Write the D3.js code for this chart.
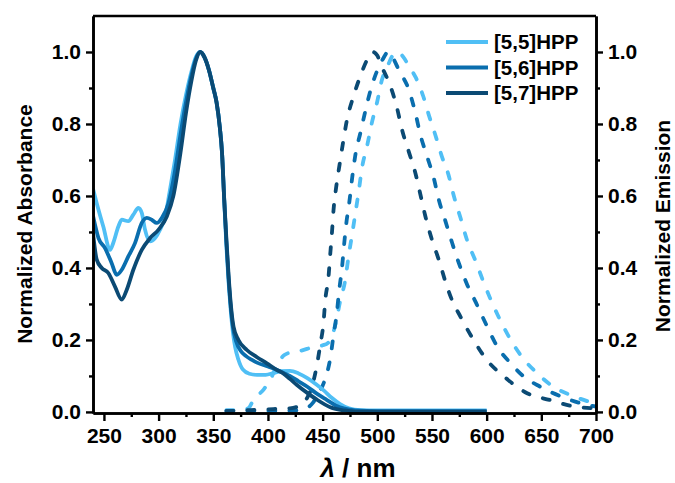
<!DOCTYPE html>
<html>
<head>
<meta charset="utf-8">
<script src="https://cdn.jsdelivr.net/npm/d3@7"></script>
<style>
  body { margin: 0; background: #fff; }
  svg text { font-family: "Liberation Sans", Arial, sans-serif; font-weight: bold; fill: #000; }
</style>
</head>
<body>
<svg id="chart" width="675" height="483"></svg>
<script>
// series names + colours
const seriesNames = ["[5,5]HPP", "[5,6]HPP", "[5,7]HPP"];
const seriesColors = ["#50bff5", "#0a6eae", "#0b4a74"];

// absorption (solid), [wavelength nm, normalized]
const abs55 = [[240,0.62],[243.4,0.58],[249.4,0.515],[255.6,0.45],[258.6,0.47],[263.2,0.515],[266.3,0.534],[272.3,0.53],[276.9,0.548],[281.5,0.567],[284.6,0.553],[287.6,0.506],[292.2,0.474],[296.8,0.483],[301.3,0.506],[306,0.543],[310,0.61],[315,0.70],[320,0.80],[325,0.88],[330,0.945],[334,0.985],[338,1.0],[342,0.985],[346,0.95],[350,0.9],[353,0.86],[356,0.79],[358,0.72],[360,0.59],[362,0.46],[364,0.36],[366,0.28],[368,0.22],[370,0.18],[373,0.145],[377,0.118],[383,0.106],[390,0.103],[398,0.103],[405,0.108],[412,0.113],[420,0.114],[428,0.107],[436,0.094],[444,0.077],[451,0.06],[458,0.04],[466,0.022],[474,0.01],[485,0.005],[500,0.004],[600,0.004]];
const abs56 = [[240,0.545],[245,0.483],[251,0.455],[257,0.414],[261.7,0.381],[266.3,0.395],[272.3,0.432],[278.4,0.469],[284.6,0.525],[289.2,0.539],[293.7,0.534],[298.3,0.525],[302.9,0.539],[309,0.58],[315,0.67],[320,0.77],[325,0.86],[330,0.935],[334,0.98],[338,1.0],[342,0.985],[346,0.95],[350,0.9],[353,0.86],[356,0.79],[358,0.72],[360,0.59],[362,0.47],[364,0.37],[366,0.29],[368,0.235],[371,0.195],[375,0.17],[380,0.155],[385,0.145],[390,0.137],[400,0.126],[408,0.117],[415,0.107],[420,0.1],[428,0.085],[436,0.07],[445,0.05],[454,0.033],[462,0.018],[470,0.009],[480,0.004],[500,0.002],[600,0.002]];
const abs57 = [[240,0.497],[243.4,0.423],[248,0.4],[254,0.386],[260,0.349],[266.3,0.312],[270.8,0.339],[276.9,0.395],[284.6,0.45],[292.2,0.483],[299.8,0.506],[307.5,0.543],[313.5,0.6],[320,0.72],[325,0.83],[330,0.92],[334,0.975],[338,1.0],[342,0.985],[346,0.95],[350,0.9],[353,0.86],[356,0.79],[358,0.72],[360,0.59],[362,0.48],[364,0.38],[366,0.3],[368.5,0.237],[373,0.2],[380.7,0.172],[390,0.152],[399,0.135],[408,0.117],[414,0.107],[420,0.092],[426.5,0.075],[435,0.055],[444.8,0.034],[457,0.013],[470,0.004],[480,0.001],[600,0.001]];

// emission (dashed)
const em55 = [[362,0.005],[375,0.005],[382,0.01],[387,0.035],[396,0.062],[403,0.095],[409,0.135],[415,0.158],[422,0.166],[430,0.17],[441,0.18],[450,0.185],[455,0.192],[458,0.205],[461.6,0.242],[466,0.307],[470.7,0.367],[473.7,0.432],[476.9,0.492],[480,0.553],[483,0.613],[486,0.678],[490.6,0.738],[495,0.803],[500,0.863],[504,0.92],[510,0.965],[514,0.99],[519,1.0],[524,0.985],[529,0.96],[535,0.93],[542,0.877],[547,0.826],[553,0.77],[559,0.71],[565,0.66],[570,0.6],[576,0.54],[582,0.478],[590,0.418],[597,0.362],[604,0.31],[610,0.27],[622,0.2],[632,0.154],[646,0.108],[661,0.07],[680,0.043],[700,0.022]];
const em56 = [[362,0.003],[400,0.003],[425,0.004],[435,0.01],[441,0.025],[446,0.05],[452,0.089],[457,0.149],[460,0.214],[463,0.275],[465,0.335],[467.7,0.4],[469.5,0.46],[471.5,0.52],[474.5,0.585],[477,0.65],[480,0.715],[484.5,0.775],[489,0.835],[494,0.896],[501,0.956],[505,0.98],[510,1.0],[515,0.98],[519.5,0.951],[528.7,0.896],[534.8,0.831],[539.4,0.77],[545.5,0.71],[551.6,0.65],[556.2,0.59],[562.3,0.53],[568.4,0.47],[574.5,0.414],[582,0.355],[590,0.305],[600,0.24],[610,0.18],[622,0.135],[634,0.098],[649,0.07],[668,0.043],[686,0.024],[700,0.015]];
const em57 = [[362,0.002],[384,0.005],[405,0.008],[420,0.01],[429.5,0.018],[436,0.04],[440.2,0.07],[444.8,0.131],[447.8,0.186],[450.9,0.251],[452.4,0.31],[455.4,0.376],[457,0.44],[458.5,0.497],[460,0.562],[462.5,0.627],[465.5,0.687],[468.6,0.747],[472.3,0.812],[477.8,0.873],[484.5,0.933],[491,0.98],[496,1.0],[500,0.99],[504,0.96],[512,0.905],[518,0.845],[522.6,0.784],[528.7,0.724],[534.8,0.664],[539.4,0.604],[544,0.543],[550,0.478],[556.2,0.423],[562.3,0.362],[568.4,0.31],[576,0.265],[588,0.2],[600,0.145],[616,0.098],[637,0.052],[658,0.033],[680,0.015],[700,0.01]];

const absData = [abs55, abs56, abs57];
const emData = [em55, em56, em57];

// ticks
const xMajor = [250, 300, 350, 400, 450, 500, 550, 600, 650, 700];
const xMinor = [275, 325, 375, 425, 475, 525, 575, 625, 675];
const yMajor = [0, 0.2, 0.4, 0.6, 0.8, 1.0];
const yMinor = [0.1, 0.3, 0.5, 0.7, 0.9];

const L = 93, R = 596, T = 16, B = 413;
const svg = d3.select("#chart");

const x = d3.scaleLinear().domain([240, 700]).range([L, R]);
const y = d3.scaleLinear().domain([-0.003, 1.1]).range([B, T]);

const line = d3.line()
  .x(d => x(d[0]))
  .y(d => y(d[1]))
  .curve(d3.curveMonotoneX);

svg.append("defs").append("clipPath").attr("id", "plot-clip")
  .append("rect").attr("x", L).attr("y", T).attr("width", R - L).attr("height", B - T);

const plot = svg.append("g").attr("clip-path", "url(#plot-clip)");

// draw light -> dark so the dark ones sit on top
[0, 1, 2].forEach(i => {
  plot.append("path")
    .datum(emData[i])
    .attr("fill", "none")
    .attr("stroke", seriesColors[i])
    .attr("stroke-width", 3.8)
    .attr("stroke-dasharray", "7,14")
    .attr("stroke-linecap", "round")
    .attr("d", line);
});
[0, 1, 2].forEach(i => {
  plot.append("path")
    .datum(absData[i])
    .attr("fill", "none")
    .attr("stroke", seriesColors[i])
    .attr("stroke-width", 3.8)
    .attr("stroke-linejoin", "round")
    .attr("d", line);
});

// AXES
const fmt = d3.format(".1f");
function styleAxis(g) {
  g.selectAll(".domain").attr("stroke", "#000").attr("stroke-width", 2.6);
  g.selectAll(".tick line").attr("stroke", "#000").attr("stroke-width", 2.4);
  g.selectAll(".tick text").style("font-size", "21px");
}

svg.append("g").attr("transform", `translate(0,${B})`)
  .call(d3.axisBottom(x).tickValues(xMinor).tickSize(4).tickFormat("").tickSizeOuter(0))
  .call(styleAxis);
svg.append("g").attr("transform", `translate(0,${B})`)
  .call(d3.axisBottom(x).tickValues(xMajor).tickSize(8).tickPadding(7).tickFormat(d3.format("d")).tickSizeOuter(0))
  .call(styleAxis);

svg.append("g").attr("transform", `translate(${L},0)`)
  .call(d3.axisLeft(y).tickValues(yMinor).tickSize(4).tickFormat("").tickSizeOuter(0))
  .call(styleAxis);
svg.append("g").attr("transform", `translate(${L},0)`)
  .call(d3.axisLeft(y).tickValues(yMajor).tickSize(7).tickPadding(5).tickFormat(fmt).tickSizeOuter(0))
  .call(styleAxis);

svg.append("g").attr("transform", `translate(${R},0)`)
  .call(d3.axisRight(y).tickValues(yMinor).tickSize(4).tickFormat("").tickSizeOuter(0))
  .call(styleAxis);
svg.append("g").attr("transform", `translate(${R},0)`)
  .call(d3.axisRight(y).tickValues(yMajor).tickSize(7).tickPadding(5).tickFormat(fmt).tickSizeOuter(0))
  .call(styleAxis);

// top frame
svg.append("line")
  .attr("x1", L).attr("x2", R).attr("y1", T).attr("y2", T)
  .attr("stroke", "#000").attr("stroke-width", 2.6);

// TITLES
svg.append("text")
  .attr("transform", "translate(32,224) rotate(-90)")
  .attr("text-anchor", "middle")
  .style("font-size", "21px")
  .text("Normalized Absorbance");

svg.append("text")
  .attr("transform", "translate(670,226) rotate(-90)")
  .attr("text-anchor", "middle")
  .style("font-size", "21px")
  .text("Normalized Emission");

const xt = svg.append("text")
  .attr("x", 358).attr("y", 477)
  .attr("text-anchor", "middle")
  .style("font-size", "26px");
xt.append("tspan").style("font-style", "italic").text("λ");
xt.append("tspan").text(" / nm");

// LEGEND
const leg = svg.append("g");
seriesNames.forEach((n, i) => {
  const ly = 42 + i * 25.5;
  leg.append("line")
    .attr("x1", 446).attr("x2", 488).attr("y1", ly).attr("y2", ly)
    .attr("stroke", seriesColors[i]).attr("stroke-width", 4);
  leg.append("text")
    .attr("x", 494).attr("y", ly).attr("dy", "0.35em")
    .style("font-size", "20.5px")
    .text(n);
});
</script>
</body>
</html>
